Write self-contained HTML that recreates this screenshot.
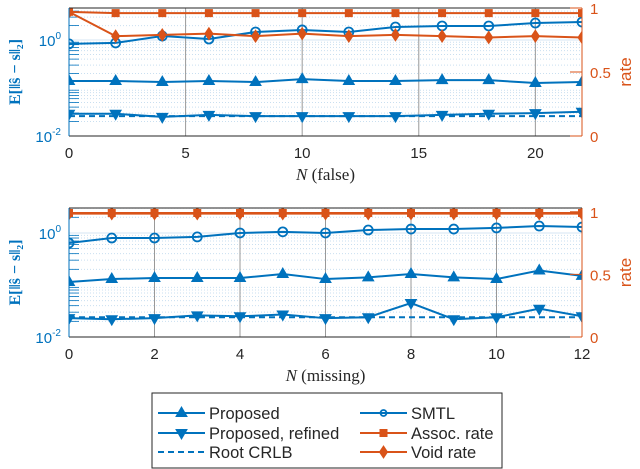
<!DOCTYPE html>
<html><head><meta charset="utf-8"><style>
body{margin:0;background:#fff;}
svg{display:block;font-family:"Liberation Sans",sans-serif;}
</style></head><body>
<svg id="chart" width="640" height="469" viewBox="0 0 640 469"></svg>
<script>
const BLUE='#0072BD', ORANGE='#D95319';
// Panel 1 data (N false)
const p1X=[0,2,4,6,8,10,12,14,16,18,20,22];
const p1Smtl=[0.83,0.87,1.21,1.05,1.47,1.62,1.47,1.87,1.96,1.96,2.26,2.37];
const p1Prop=[0.14,0.14,0.133,0.14,0.133,0.153,0.14,0.14,0.146,0.146,0.127,0.133];
const p1Ref=[0.029,0.029,0.025,0.0275,0.026,0.026,0.026,0.026,0.0275,0.029,0.030,0.032];
const p1Crlb=[0.026,0.026,0.026,0.026,0.026,0.026,0.026,0.026,0.026,0.026,0.026,0.026];
const p1Assoc=[0.97,0.96,0.96,0.96,0.96,0.96,0.96,0.96,0.96,0.96,0.96,0.96];
const p1Void=[0.97,0.78,0.79,0.80,0.78,0.80,0.78,0.79,0.78,0.77,0.78,0.77];
const p1XTicks=[0,5,10,15,20];
// Panel 2 data (N missing)
const p2X=[0,1,2,3,4,5,6,7,8,9,10,11,12];
const p2Smtl=[0.64,0.80,0.80,0.84,1.0,1.05,1.0,1.14,1.19,1.19,1.25,1.36,1.30];
const p2Prop=[0.114,0.13,0.136,0.136,0.136,0.163,0.13,0.14,0.163,0.14,0.13,0.19,0.15];
const p2Ref=[0.023,0.022,0.023,0.026,0.025,0.027,0.023,0.024,0.045,0.022,0.024,0.035,0.025];
const p2Crlb=[0.024,0.024,0.024,0.024,0.024,0.024,0.024,0.024,0.024,0.024,0.024,0.024,0.024];
const p2Assoc=[0.99,0.99,0.99,0.99,0.99,0.99,0.99,0.99,0.99,0.99,0.99,0.99,0.99];
const p2Void=[0.985,0.985,0.985,0.985,0.985,0.985,0.985,0.985,0.985,0.985,0.985,0.985,0.985];
const p2XTicks=[0,2,4,6,8,10,12];

const svg=document.getElementById('chart');
const NS='http://www.w3.org/2000/svg';
function mk(tag,attrs,parent){const e=document.createElementNS(NS,tag);for(const k in attrs)e.setAttribute(k,attrs[k]);(parent||svg).appendChild(e);return e;}

function marker(g,type,x,y,color){
  let e;
  if(type==='tri'){e=mk('path',{d:`M${x},${y-6}L${x+5.5},${y+3.5}L${x-5.5},${y+3.5}Z`,fill:color,stroke:color},g);}
  else if(type==='tridown'){e=mk('path',{d:`M${x},${y+6}L${x+5.5},${y-3.5}L${x-5.5},${y-3.5}Z`,fill:color,stroke:color},g);}
  else if(type==='circ'){e=mk('circle',{cx:x,cy:y,r:4.5,fill:'none',stroke:color,'stroke-width':1.8},g);}
  else if(type==='sq'){e=mk('rect',{x:x-3.5,y:y-3.5,width:7,height:7,fill:color,stroke:color},g);}
  else if(type==='dia'){e=mk('path',{d:`M${x},${y-6}L${x+4},${y}L${x},${y+6}L${x-4},${y}Z`,fill:color,stroke:color},g);}
  return e;
}

function panel(id,P){
  const {L,R,T,B,xmax,ltop,rtop}=P;
  const sx=v=>L+(v/xmax)*(R-L);
  const sy=v=>B-(Math.log10(v)+2)/(ltop+2)*(B-T);
  const sr=v=>B-v/rtop*(B-T);
  const g=mk('g',{});
  
  
  mk('rect',{x:L,y:T,width:R-L,height:B-T,fill:'#fff'},g);
  for(let d=-2;d<1;d++)for(let m=2;m<10;m++){const v=m*Math.pow(10,d);const y=sy(v);if(y<T)continue;
    mk('line',{x1:L,x2:R,y1:y,y2:y,stroke:'#c9dff0','stroke-dasharray':'1 2','stroke-width':1},g);
    mk('line',{x1:L,x2:L+10,y1:y,y2:y,stroke:BLUE,'stroke-width':0.8},g);}
  [0.01,1].forEach(v=>{const y=sy(v);mk('line',{x1:L,x2:R,y1:y,y2:y,stroke:'#d6e6f3','stroke-width':1},g);});
  P.xt.forEach(v=>{const x=sx(v);mk('line',{x1:x,x2:x,y1:T,y2:B,stroke:'#999','stroke-width':1},g);
    const t=mk('text',{x:x,y:B+22,'font-size':15,'text-anchor':'middle',fill:'#262626'},g);t.textContent=v;
    });
  const cp=mk('clipPath',{id:id+'clip'},g);mk('rect',{x:L,y:T,width:R-L,height:B-T},cp);
  const d=mk('g',{'clip-path':`url(#${id}clip)`},g);
  function series(name,xs,ys,scale,color,mt,dash){
    const sg=mk('g',{},d);
    
    
    mk('polyline',{points:xs.map((x,i)=>sx(x)+','+scale(ys[i])).join(' '),fill:'none',stroke:color,'stroke-width':2,'stroke-dasharray':dash||''},sg);
    if(mt)xs.forEach((x,i)=>marker(sg,mt,sx(x),scale(ys[i]),color));
  }
  series('crlb-line',P.x,P.crlb,sy,BLUE,null,'6 4');
  series('proposed-refined-line',P.x,P.ref,sy,BLUE,'tridown');
  series('proposed-line',P.x,P.prop,sy,BLUE,'tri');
  series('smtl-line',P.x,P.smtl,sy,BLUE,'circ');
  series('void-rate-line',P.x,P.void,sr,ORANGE,'dia');
  series('assoc-rate-line',P.x,P.assoc,sr,ORANGE,'sq');
  mk('line',{x1:L,x2:R,y1:T,y2:T,stroke:'#262626','stroke-width':1},g);
  mk('line',{x1:L,x2:R,y1:B,y2:B,stroke:'#262626','stroke-width':1},g);
  mk('line',{x1:L,x2:L,y1:T,y2:B,stroke:BLUE,'stroke-width':1},g);
  mk('line',{x1:R,x2:R,y1:T,y2:B,stroke:ORANGE,'stroke-width':1},g);
  [[0.01,'-2'],[1,'0']].forEach(([v,e])=>{const y=sy(v);
    const t=mk('text',{x:L-8,y:y+6,'font-size':15,'text-anchor':'end',fill:BLUE},g);
    t.innerHTML=`10<tspan font-size="10" dy="-7">${e}</tspan>`;
    });
  [0,0.5,1].forEach(v=>{const y=sr(v);mk('line',{x1:R-12,x2:R,y1:y,y2:y,stroke:ORANGE},g);
    const t=mk('text',{x:R+8,y:y+6,'font-size':15,fill:ORANGE},g);t.textContent=v;
    });
  const yl=mk('text',{transform:`translate(20,${(T+B)/2}) rotate(-90)`,'font-size':16,'text-anchor':'middle',fill:BLUE,'font-family':'Liberation Serif, serif','font-weight':'bold'},g);
  yl.textContent='E[‖ŝ − s‖₂]';
  
  const rl=mk('text',{transform:`translate(631,${(T+B)/2}) rotate(-90)`,'font-size':17,'text-anchor':'middle',fill:ORANGE},g);
  rl.textContent='rate';
  
  const xl=mk('text',{x:(L+R)/2,y:B+44,'font-size':17,'text-anchor':'middle',fill:'#262626','font-family':'Liberation Serif, serif'},g);
  xl.innerHTML=`<tspan font-style="italic">N</tspan> (${P.xlabel})`;
  
}
panel('panel-false',{L:69,R:582,T:8,B:136,xmax:22,ltop:0.667,rtop:1,x:p1X,smtl:p1Smtl,prop:p1Prop,ref:p1Ref,crlb:p1Crlb,assoc:p1Assoc,void:p1Void,xt:p1XTicks,xlabel:'false'});
panel('panel-missing',{L:69,R:582,T:208,B:337,xmax:12,ltop:0.48,rtop:1.03,x:p2X,smtl:p2Smtl,prop:p2Prop,ref:p2Ref,crlb:p2Crlb,assoc:p2Assoc,void:p2Void,xt:p2XTicks,xlabel:'missing'});

const lg=mk('g',{});


mk('rect',{x:152,y:393,width:350,height:75,fill:'#fff',stroke:'#262626','stroke-width':1},lg);
const entries=[['Proposed',BLUE,'tri',null,155,413],['Proposed, refined',BLUE,'tridown',null,155,433],['Root CRLB',BLUE,null,'6 4',155,452],
['SMTL',BLUE,'circ',null,357,413],['Assoc. rate',ORANGE,'sq',null,357,433],['Void rate',ORANGE,'dia',null,357,452]];
entries.forEach(([lab,c,m,dash,x,y])=>{
  const eg=mk('g',{},lg);
  
  
  mk('line',{x1:x+3,x2:x+50,y1:y,y2:y,stroke:c,'stroke-width':2,'stroke-dasharray':dash||''},eg);
  if(m){const mm=marker(eg,m,x+26.5,y,c);if(m==='circ'){mm.setAttribute('r',3);}}
  const t=mk('text',{x:x+54,y:y+6,'font-size':16.5,fill:'#262626'},eg);t.textContent=lab;
});
</script>
</body></html>
